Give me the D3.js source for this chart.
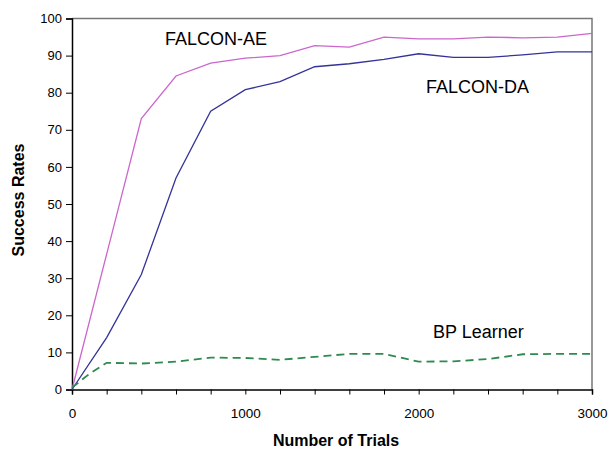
<!DOCTYPE html>
<html>
<head>
<meta charset="utf-8">
<script src="https://cdn.jsdelivr.net/npm/d3@7"></script>
<style>
  html, body { margin: 0; padding: 0; background: #fff; }
  svg { display: block; }
  text { font-family: "Liberation Sans", Arial, sans-serif; }
</style>
</head>
<body>
<svg id="chart" width="609" height="452"></svg>
<script>
const trials = [0, 200, 400, 600, 800, 1000, 1200, 1400, 1600, 1800, 2000, 2200, 2400, 2600, 2800, 3000];
const falconAE = [0, 36.5, 73, 84.5, 88, 89.3, 90, 92.7, 92.3, 95, 94.5, 94.5, 95, 94.8, 95, 96];
const falconDA = [0, 14, 31, 57, 75, 80.8, 83, 87, 87.8, 89, 90.5, 89.5, 89.5, 90.2, 91, 91];
const bpTrials = [0, 100, 200, 400, 600, 800, 1000, 1200, 1400, 1600, 1800, 2000, 2200, 2400, 2600, 2800, 3000];
const bpLearner = [0.5, 4.2, 7.2, 7, 7.5, 8.6, 8.5, 8, 8.8, 9.6, 9.6, 7.5, 7.6, 8.2, 9.5, 9.6, 9.6];
const yTicks = [0, 10, 20, 30, 40, 50, 60, 70, 80, 90, 100];
const xTicks = d3.range(0, 3001, 200);
const xLabels = [0, 1000, 2000, 3000];

(function () {
const svg = d3.select("#chart");
const mL = 72, mR = 592, mT = 18.5, mB = 389.5;
const x = d3.scaleLinear().domain([0, 3000]).range([mL, mR]);
const y = d3.scaleLinear().domain([0, 100]).range([mB, mT]);

// frame (top and right)
svg.append("path")
  .attr("d", `M${mL},${mT}H${mR}V${mB}`)
  .attr("fill", "none").attr("stroke", "#777").attr("stroke-width", 1.5);

// y axis
const yAxis = svg.append("g").attr("transform", `translate(${mL},0)`)
  .call(d3.axisLeft(y).tickValues(yTicks).tickSize(6).tickPadding(4).tickFormat(d3.format("d")));
yAxis.select(".domain").attr("stroke", "#000").attr("stroke-width", 1.5);
yAxis.selectAll(".tick line").attr("stroke", "#000");
yAxis.selectAll("text").attr("font-size", 13).attr("fill", "#000")
  .attr("font-family", "'Liberation Sans', Arial, sans-serif");

// x axis
const xAxis = svg.append("g").attr("transform", `translate(0,${mB})`)
  .call(d3.axisBottom(x).tickValues(xTicks).tickSize(5).tickPadding(14)
    .tickFormat(d => xLabels.includes(d) ? d : ""));
xAxis.select(".domain").attr("stroke", "#000").attr("stroke-width", 1.5);
xAxis.selectAll(".tick line").attr("stroke", "#000");
xAxis.selectAll("text").attr("font-size", 13.5).attr("fill", "#000")
  .attr("font-family", "'Liberation Sans', Arial, sans-serif");

// lines
const mk = (xs) => d3.line().x((d, i) => x(xs[i])).y(d => y(d));
svg.append("path").datum(falconAE).attr("d", mk(trials))
  .attr("fill", "none").attr("stroke", "#cc66cc").attr("stroke-width", 1.3);
svg.append("path").datum(falconDA).attr("d", mk(trials))
  .attr("fill", "none").attr("stroke", "#333399").attr("stroke-width", 1.3);
svg.append("path").datum(bpLearner).attr("d", mk(bpTrials))
  .attr("fill", "none").attr("stroke", "#2e8b4f").attr("stroke-width", 1.8)
  .attr("stroke-dasharray", "8,5");

// series labels
svg.append("text").attr("x", 165).attr("y", 45).attr("font-size", 18).text("FALCON-AE");
svg.append("text").attr("x", 426).attr("y", 93).attr("font-size", 18).text("FALCON-DA");
svg.append("text").attr("x", 433).attr("y", 338).attr("font-size", 18).text("BP Learner");

// axis titles
svg.append("text").attr("x", (mL + mR) / 2 + 4).attr("y", 446)
  .attr("text-anchor", "middle").attr("font-size", 16).attr("font-weight", "bold")
  .text("Number of Trials");
svg.append("text").attr("transform", "translate(24,200) rotate(-90)")
  .attr("text-anchor", "middle").attr("font-size", 16).attr("font-weight", "bold")
  .text("Success Rates");
})();
</script>
</body>
</html>
